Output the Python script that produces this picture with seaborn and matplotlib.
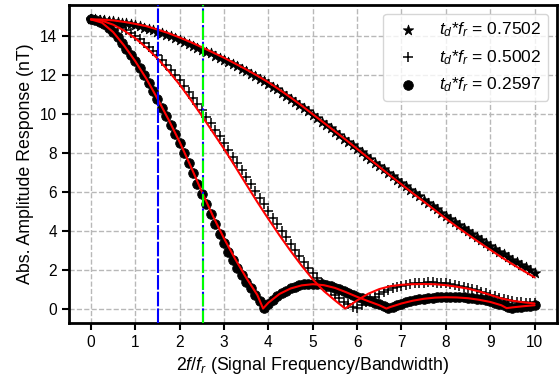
import matplotlib
matplotlib.use("Agg")
import matplotlib.pyplot as plt
import numpy as np
import seaborn as sns

# ---------------------------------------------------------------------------
# data (abs. amplitude response in nT)
# ---------------------------------------------------------------------------
x_pts = np.round(np.arange(101) * 0.1, 1)

star_amp = [
    14.85, 14.85, 14.84, 14.82, 14.79, 14.75, 14.72, 14.68, 14.64, 14.60,
    14.55, 14.49, 14.43, 14.36, 14.29, 14.22, 14.14, 14.06, 13.98, 13.89,
    13.80, 13.70, 13.60, 13.50, 13.40, 13.30, 13.20, 13.10, 12.99, 12.89,
    12.78, 12.67, 12.55, 12.44, 12.32, 12.20, 12.07, 11.94, 11.81, 11.68,
    11.55, 11.40, 11.25, 11.09, 10.94, 10.78, 10.61, 10.45, 10.28, 10.12,
    9.95, 9.78, 9.60, 9.43, 9.25, 9.08, 8.90, 8.73, 8.55, 8.38,
    8.20, 8.02, 7.85, 7.67, 7.50, 7.32, 7.15, 6.97, 6.80, 6.62,
    6.45, 6.28, 6.11, 5.94, 5.77, 5.60, 5.43, 5.26, 5.10, 4.93,
    4.76, 4.60, 4.44, 4.28, 4.12, 3.96, 3.81, 3.66, 3.50, 3.35,
    3.20, 3.06, 2.92, 2.78, 2.64, 2.50, 2.37, 2.24, 2.11, 1.98,
    1.85,
]

plus_amp = [
    14.85, 14.84, 14.81, 14.76, 14.70, 14.62, 14.52, 14.41, 14.29, 14.15,
    14.00, 13.83, 13.65, 13.45, 13.24, 13.02, 12.78, 12.53, 12.27, 12.00,
    11.72, 11.43, 11.13, 10.82, 10.50, 10.18, 9.85, 9.52, 9.18, 8.84,
    8.50, 8.15, 7.80, 7.45, 7.10, 6.75, 6.40, 6.05, 5.70, 5.35,
    5.00, 4.66, 4.32, 3.99, 3.66, 3.34, 3.00, 2.69, 2.39, 2.10,
    1.82, 1.56, 1.32, 1.09, 0.88, 0.69, 0.52, 0.36, 0.22, 0.10,
    0.02, 0.18, 0.33, 0.48, 0.61, 0.73, 0.84, 0.94, 1.03, 1.10,
    1.17, 1.22, 1.26, 1.29, 1.32, 1.33, 1.34, 1.34, 1.33, 1.31,
    1.29, 1.26, 1.22, 1.18, 1.13, 1.08, 1.02, 0.96, 0.86, 0.78,
    0.70, 0.62, 0.55, 0.49, 0.44, 0.40, 0.36, 0.33, 0.30, 0.28,
    0.26,
]

circ_amp = [
    14.85, 14.82, 14.74, 14.60, 14.42, 14.20, 13.93, 13.64, 13.34, 13.03,
    12.70, 12.34, 11.97, 11.58, 11.17, 10.75, 10.32, 9.88, 9.43, 8.97,
    8.50, 8.00, 7.48, 6.95, 6.41, 5.87, 5.35, 4.84, 4.34, 3.85,
    3.37, 2.92, 2.50, 2.10, 1.72, 1.37, 1.03, 0.70, 0.38, 0.05,
    0.25, 0.45, 0.62, 0.78, 0.92, 1.03, 1.12, 1.19, 1.24, 1.27,
    1.28, 1.27, 1.25, 1.21, 1.15, 1.08, 0.99, 0.89, 0.79, 0.70,
    0.61, 0.53, 0.45, 0.37, 0.29, 0.21, 0.12, 0.04, 0.09, 0.17,
    0.25, 0.32, 0.38, 0.43, 0.47, 0.51, 0.54, 0.56, 0.58, 0.59,
    0.60, 0.60, 0.60, 0.59, 0.58, 0.56, 0.54, 0.51, 0.47, 0.43,
    0.38, 0.31, 0.24, 0.16, 0.07, 0.04, 0.07, 0.10, 0.12, 0.14,
    0.16,
]

# red model curves
x_fit_star = [0, 0.25, 0.5, 0.75, 1, 1.25, 1.5, 1.75, 2, 2.25, 2.5, 2.75, 3,
              3.25, 3.5, 3.75, 4, 4.25, 4.5, 4.75, 5, 5.25, 5.5, 5.75, 6,
              6.25, 6.5, 6.75, 7, 7.25, 7.5, 7.75, 8, 8.25, 8.5, 8.75, 9,
              9.25, 9.5, 9.75, 10]
star_fit = [14.85, 14.84, 14.80, 14.72, 14.62, 14.50, 14.33, 14.14, 13.92,
            13.68, 13.42, 13.15, 12.88, 12.58, 12.28, 11.96, 11.62, 11.24,
            10.84, 10.42, 9.98, 9.54, 9.10, 8.66, 8.20, 7.74, 7.28, 6.82,
            6.38, 5.93, 5.50, 5.06, 4.62, 4.20, 3.80, 3.40, 3.02, 2.64,
            2.28, 1.94, 1.60]

x_fit_plus = [0, 0.25, 0.5, 0.75, 1, 1.25, 1.5, 1.75, 2, 2.25, 2.5, 2.75, 3,
              3.25, 3.5, 3.75, 4, 4.25, 4.5, 4.75, 5, 5.25, 5.5, 5.73, 6,
              6.25, 6.5, 6.75, 7, 7.25, 7.5, 7.75, 8, 8.25, 8.5, 8.75, 9,
              9.25, 9.5, 9.75, 10]
plus_fit = [14.85, 14.78, 14.58, 14.27, 13.88, 13.40, 12.84, 12.20, 11.50,
            10.72, 9.90, 9.05, 8.20, 7.30, 6.38, 5.47, 4.60, 3.76, 2.96,
            2.20, 1.50, 0.90, 0.42, 0.00, 0.42, 0.76, 1.00, 1.15, 1.22,
            1.25, 1.26, 1.25, 1.20, 1.12, 1.02, 0.88, 0.70, 0.52, 0.40,
            0.32, 0.26]

x_fit_circ = [0, 0.25, 0.5, 0.75, 1, 1.25, 1.5, 1.75, 2, 2.25, 2.5, 2.75, 3,
              3.25, 3.5, 3.75, 3.88, 4, 4.25, 4.5, 4.75, 5, 5.25, 5.5, 5.75,
              6, 6.25, 6.5, 6.66, 6.75, 7, 7.25, 7.5, 7.75, 8, 8.25, 8.5,
              8.75, 9, 9.25, 9.37, 9.5, 9.75, 10]
circ_fit = [14.85, 14.68, 14.20, 13.50, 12.70, 11.80, 10.78, 9.70, 8.55,
            7.30, 6.00, 4.75, 3.60, 2.55, 1.58, 0.70, 0.00, 0.30, 0.75,
            1.03, 1.19, 1.25, 1.20, 1.06, 0.84, 0.60, 0.38, 0.17, 0.00,
            0.08, 0.26, 0.40, 0.50, 0.56, 0.58, 0.57, 0.53, 0.45, 0.34,
            0.17, 0.02, 0.06, 0.12, 0.17]

labels = [r"$t_d$*$f_r$ = 0.7502", r"$t_d$*$f_r$ = 0.5002", r"$t_d$*$f_r$ = 0.2597"]
vlines_x = [1.52, 2.52]

# ---------------------------------------------------------------------------
# plot
# ---------------------------------------------------------------------------
sns.set_style("ticks")
plt.rcParams["font.family"] = ["Liberation Sans", "DejaVu Sans"]
plt.rcParams["mathtext.fontset"] = "custom"
plt.rcParams["mathtext.rm"] = "Liberation Sans"
plt.rcParams["mathtext.it"] = "Liberation Sans:italic"
plt.rcParams["text.color"] = "black"
plt.rcParams["axes.labelcolor"] = "black"

fig, ax = plt.subplots(figsize=(5.59, 3.80), dpi=100)
fig.subplots_adjust(left=0.123, right=0.996, bottom=0.150, top=0.987)

sns.scatterplot(x=x_pts, y=star_amp, marker="*", s=60, color="k",
                edgecolor="k", linewidth=0.6, label=labels[0], ax=ax, zorder=3)
sns.scatterplot(x=x_pts, y=plus_amp, marker="+", s=48, color="k",
                linewidth=1.1, label=labels[1], ax=ax, zorder=3)
sns.scatterplot(x=x_pts, y=circ_amp, marker="o", s=48, color="k",
                edgecolor="k", linewidth=0.6, label=labels[2], ax=ax, zorder=3)

for xs, ys in [(x_fit_star, star_fit), (x_fit_plus, plus_fit), (x_fit_circ, circ_fit)]:
    sns.lineplot(x=xs, y=ys, color="red", linewidth=1.5, sort=False,
                 estimator=None, ax=ax, zorder=4)

ax.axvline(vlines_x[0], color="blue", linewidth=1.5, dashes=(7, 1), zorder=5)
ax.axvline(vlines_x[1], color="blue", linewidth=1.5, dashes=(7, 1), zorder=5)
ax.axvline(vlines_x[1], color="lime", linewidth=1.5, dashes=(6, 2), zorder=6)

ax.set_xticks(range(0, 11))
ax.set_yticks(range(0, 15, 2))
ax.grid(True, linestyle="--", color="0.72", linewidth=1.0)
ax.set_axisbelow(True)

for sp in ax.spines.values():
    sp.set_linewidth(2)
    sp.set_color("black")
ax.tick_params(direction="out", length=5, width=1.5, labelsize=11.2,
               color="black", labelcolor="black")

ax.set_xlabel(r"$2f/f_r$ (Signal Frequency/Bandwidth)", fontsize=12.8)
ax.set_ylabel("Abs. Amplitude Response (nT)", fontsize=12.8)

ax.legend(loc="upper right", fontsize=12.5)

fig.savefig("out.png", dpi=100)
